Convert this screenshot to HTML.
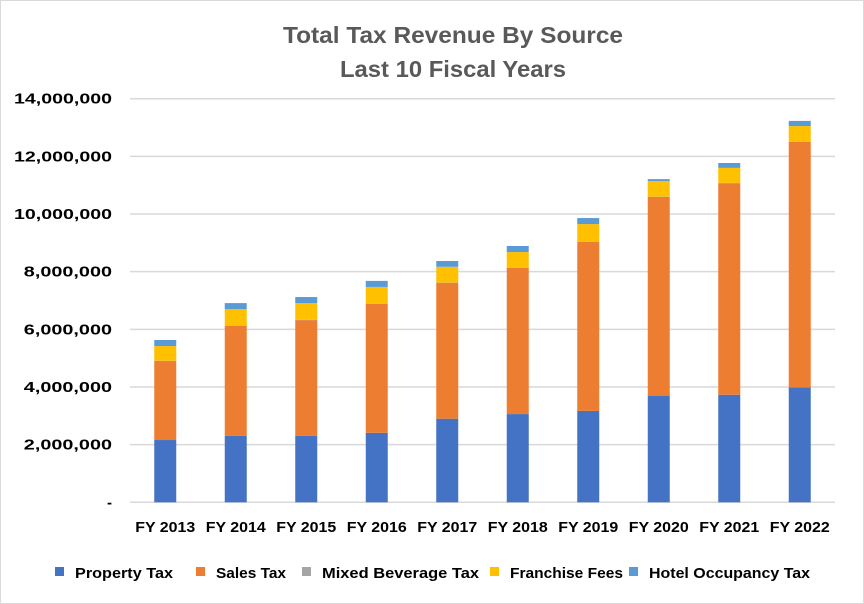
<!DOCTYPE html>
<html><head><meta charset="utf-8"><style>
html,body{margin:0;padding:0;background:#fff;}
svg{display:block;font-family:"Liberation Sans",sans-serif;}
</style></head><body>
<svg id="chart" width="864" height="604" viewBox="0 0 864 604">
<rect x="0.5" y="0.5" width="863" height="603" fill="#fff" stroke="#d9d9d9"/>
<text x="453" y="43" text-anchor="middle" font-size="23" font-weight="bold" fill="#595959" textLength="340" lengthAdjust="spacingAndGlyphs">Total Tax Revenue By Source</text>
<text x="453" y="77" text-anchor="middle" font-size="23" font-weight="bold" fill="#595959" textLength="226" lengthAdjust="spacingAndGlyphs">Last 10 Fiscal Years</text>
<g id="grid"></g><g id="bars"></g><g id="ylabels"></g><g id="xlabels"></g><g id="legend"></g>
</svg>
<script>
const categories=["FY 2013","FY 2014","FY 2015","FY 2016","FY 2017","FY 2018","FY 2019","FY 2020","FY 2021","FY 2022"];
const propertyTax=[2160000,2310000,2310000,2410000,2900000,3060000,3170000,3700000,3730000,3980000];
const salesTax=[2740000,3810000,4010000,4470000,4710000,5070000,5860000,6890000,7340000,8520000];
const mixedBeverageTax=[10000,10000,10000,10000,10000,10000,10000,10000,10000,10000];
const franchiseFees=[510000,570000,580000,580000,550000,540000,610000,540000,520000,540000];
const hotelOccupancyTax=[210000,210000,210000,210000,200000,210000,210000,70000,170000,180000];
const yTicks=[0,2000000,4000000,6000000,8000000,10000000,12000000,14000000];
const yTickLabels=["-","2,000,000","4,000,000","6,000,000","8,000,000","10,000,000","12,000,000","14,000,000"];
const seriesNames=["Property Tax","Sales Tax","Mixed Beverage Tax","Franchise Fees","Hotel Occupancy Tax"];
const seriesColors=["#4472c4","#ed7d31","#a5a5a5","#ffc000","#5b9bd5"];
const series=[propertyTax,salesTax,mixedBeverageTax,franchiseFees,hotelOccupancyTax];

const NS="http://www.w3.org/2000/svg";
const X0=130,X1=835,Y0=502.3,Y1=98.7,YMAX=14000000;
const band=(X1-X0)/categories.length,barW=22;
const y=v=>Y0-(v/YMAX)*(Y0-Y1);
const xc=i=>X0+band*(i+0.5);
function mk(tag,attrs,parent){const e=document.createElementNS(NS,tag);for(const k in attrs)e.setAttribute(k,attrs[k]);parent.appendChild(e);return e;}
const grid=document.getElementById('grid'),bars=document.getElementById('bars'),yl=document.getElementById('ylabels'),xl=document.getElementById('xlabels'),lg=document.getElementById('legend');
yTicks.forEach((t,i)=>{
  const l=mk('line',{x1:X0,x2:X1,y1:y(t),y2:y(t),stroke:'#d9d9d9','stroke-width':1.5},grid);
  
  
  const lab=yTickLabels[i];
  const attrs={x:112,y:y(t)+5,'text-anchor':'end','font-size':15,'font-weight':'bold',fill:'#000'};
  if(lab.length>1){attrs.textLength=lab.length*9.8;attrs.lengthAdjust='spacingAndGlyphs';}
  const tx=mk('text',attrs,yl);
  tx.textContent=lab;
  
  
});
categories.forEach((c,i)=>{
  let acc=0;
  series.forEach((s,k)=>{
    const v=s[i];
    const r=mk('rect',{x:xc(i)-barW/2,y:y(acc+v),width:barW,height:y(acc)-y(acc+v),fill:seriesColors[k]},bars);
    
    
    acc+=v;
  });
  const t=mk('text',{x:xc(i),y:532,'text-anchor':'middle','font-size':15,'font-weight':'bold',fill:'#000',textLength:60,lengthAdjust:'spacingAndGlyphs'},xl);
  t.textContent=c;
  
  
});
const legX=[55,196,302,490,629],legW=[98,70,157,113,161];
seriesNames.forEach((n,k)=>{
  const g=mk('g',{},lg);
  
  
  mk('rect',{x:legX[k],y:567,width:9,height:9,fill:seriesColors[k]},g);
  const t=mk('text',{x:legX[k]+20,y:578,'font-size':15,'font-weight':'bold',fill:'#000',textLength:legW[k],lengthAdjust:'spacingAndGlyphs'},g);
  t.textContent=n;
});
</script>
</body></html>
